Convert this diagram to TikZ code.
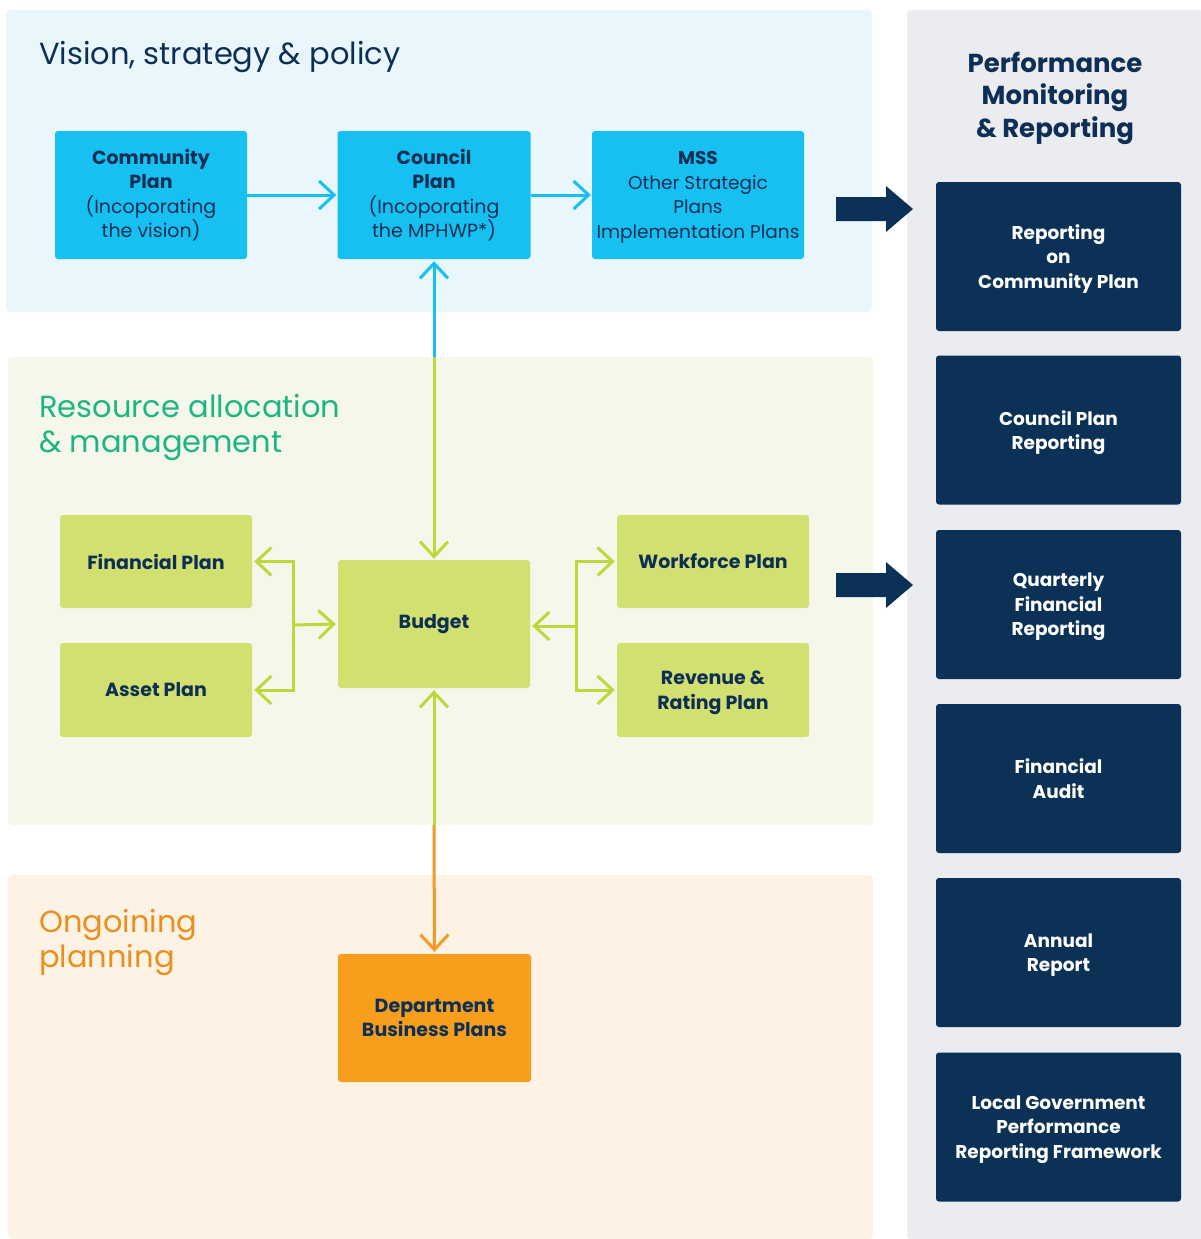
\documentclass[tikz,border=0pt]{standalone}
\usepackage{fontspec}
\setmainfont{Poppins}
\usetikzlibrary{arrows.meta}
\definecolor{bgblue}{HTML}{E9F6FC}
\definecolor{bggreen}{HTML}{F5F7EA}
\definecolor{bgorange}{HTML}{FEF2E5}
\definecolor{bggrey}{HTML}{EBECF0}
\definecolor{cyanbox}{HTML}{16C1F1}
\definecolor{greenbox}{HTML}{D1E06F}
\definecolor{orangebox}{HTML}{F79E1D}
\definecolor{navybox}{HTML}{0B3157}
\definecolor{navytext}{HTML}{0E2F55}
\definecolor{greentitle}{HTML}{1DB584}
\definecolor{orangetitle}{HTML}{E8901E}
\definecolor{greenline}{HTML}{BED73A}
\definecolor{orangeline}{HTML}{F39A27}
\begin{document}
\begin{tikzpicture}[x=1pt,y=-1pt,
  panel/.style={rounded corners=4pt},
  box/.style={rounded corners=3pt, inner sep=0pt, align=center, text=navytext,
    font=\fontsize{19}{24.5}\selectfont},
  cbox/.style={box, fill=cyanbox, minimum height=128pt},
  gbox/.style={box, fill=greenbox, minimum width=192pt, font=\fontsize{19}{24.5}\selectfont\bfseries},
  obox/.style={box, fill=orangebox, minimum width=193pt, minimum height=128pt, font=\fontsize{19}{24.5}\selectfont\bfseries},
  nbox/.style={box, fill=navybox, text=white, minimum width=245pt, minimum height=149pt, text depth=0pt, font=\fontsize{18.5}{24.5}\selectfont\bfseries},
  sectitle/.style={anchor=base west, inner sep=0pt, font=\fontsize{30.5}{35}\selectfont},
  tip/.style={-{Straight Barb[length=15pt,width=28pt]}},
  tipb/.style={{Straight Barb[length=15pt,width=28pt]}-},
  cline/.style={draw=cyanbox, line width=3pt},
  gline/.style={draw=greenline, line width=3pt},
  oline/.style={draw=orangeline, line width=3pt},
  bigarrow/.style={fill=navybox}
]
\useasboundingbox (0,0) rectangle (1200,1239);
\fill[white] (0,0) rectangle (1200,1239);
% panels
\fill[bgblue, panel] (6,10) rectangle (872,312);
\fill[bggreen, panel] (8,357) rectangle (873,825);
\fill[bgorange, panel] (8,875) rectangle (873,1239);
\fill[bggrey, panel] (907,10) rectangle (1204,1239);

% section titles
\node[sectitle, text=navytext] (t1) at (39,65) {Vision, strategy \& policy};
\node[sectitle, text=greentitle] (t2a) at (39,417) {Resource allocation};
\node[sectitle, text=greentitle] (t2b) at (39,452) {\& management};
\node[sectitle, text=orangetitle] (t3a) at (39,932) {Ongoining};
\node[sectitle, text=orangetitle] (t3b) at (39,967) {planning};
\node[align=center, text=navytext, inner sep=0pt, font=\fontsize{26}{32.5}\selectfont\bfseries] (t4) at (1055,98)
  {Performance\\Monitoring\\\& Reporting};

% top row
\node[cbox, minimum width=192pt] (comm) at (151,195)
  {\textbf{Community}\\\textbf{Plan}\\(Incoporating\\the vision)};
\node[cbox, minimum width=193pt] (council) at (434,195)
  {\textbf{Council}\\\textbf{Plan}\\(Incoporating\\the MPHWP*)};
\node[cbox, minimum width=212pt, text depth=0pt, font=\fontsize{18.5}{24.5}\selectfont] (mss) at (698,195)
  {\textbf{MSS}\\Other Strategic\\Plans\\Implementation Plans};

% resource row
\node[gbox, minimum height=93pt] (fin) at (156,561.5) {Financial Plan};
\node[gbox, minimum height=94pt] (asset) at (156,690) {Asset Plan};
\node[gbox, minimum height=128pt] (budget) at (434,624) {Budget};
\node[gbox, minimum height=93pt] (work) at (713,561.5) {Workforce Plan};
\node[gbox, minimum height=94pt, text depth=0pt] (rev) at (713,690) {Revenue \&\\Rating Plan};

% ongoing
\node[obox] (dept) at (434.5,1018) {Department\\Business Plans};

% right column
\node[nbox] (r1) at (1058.5,256.5) {Reporting\\on\\Community Plan};
\node[nbox] (r2) at (1058.5,430) {Council Plan\\Reporting};
\node[nbox] (r3) at (1058.5,604.5) {Quarterly\\Financial\\Reporting};
\node[nbox] (r4) at (1058.5,778.5) {Financial\\Audit};
\node[nbox] (r5) at (1058.5,952.5) {Annual\\Report};
\node[nbox] (r6) at (1058.5,1127) {Local Government\\Performance\\Reporting Framework};

% connectors top row
\draw[cline, tip, shorten >=1pt] (comm.east) -- (council.west);
\draw[cline, tip, shorten >=1pt] (council.east) -- (mss.west);

% council <-> budget
\coordinate (cb) at (434,357);
\draw[cline, tipb, shorten <=2pt] (council.south) -- (cb);
\draw[gline, tip, shorten >=1pt] (cb) -- (budget.north);

% left fork
\coordinate (lj) at (293,625);
\draw[gline, tip, shorten >=2pt] (lj) |- (fin.east);
\draw[gline, tip, shorten >=2pt] (lj) |- (asset.east);
\draw[gline, tip, shorten >=2pt] (lj) -- (budget.west);

% right fork
\coordinate (rj) at (576,626);
\draw[gline, tip, shorten >=2pt] (rj) |- (work.west);
\draw[gline, tip, shorten >=2pt] (rj) |- (rev.west);
\draw[gline, tip, shorten >=2pt] (rj) -- (budget.east |- rj);

% budget <-> department
\coordinate (bd) at (434,825);
\draw[gline, tipb, shorten <=2pt] (budget.south) -- (bd);
\draw[oline, tip, shorten >=2pt] (bd) -- (dept.north);

% big arrows
\fill[bigarrow] (836,197) -- (886,197) -- (886,186) -- (913,209) -- (886,232) -- (886,221) -- (836,221) -- cycle;
\fill[bigarrow] (836,573) -- (886,573) -- (886,562) -- (913,585) -- (886,608) -- (886,597) -- (836,597) -- cycle;
\end{tikzpicture}
\end{document}
